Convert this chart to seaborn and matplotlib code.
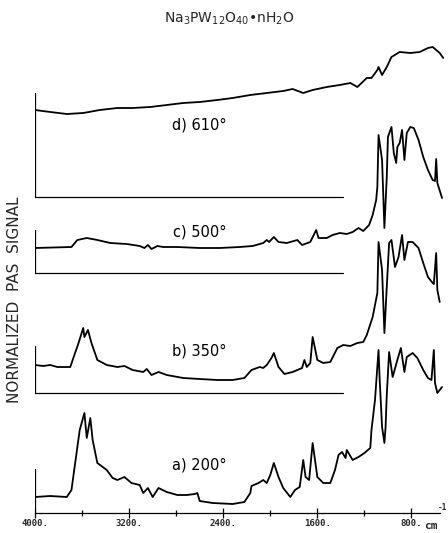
import numpy as np
import pandas as pd
import matplotlib
matplotlib.use("Agg")
import matplotlib.pyplot as plt
import seaborn as sns

# ---- data (wavenumber in cm^-1, normalized PAS signal in arbitrary units above each trace's baseline)
wn_a = [4000, 3870, 3730, 3690, 3620, 3580, 3560, 3530, 3510, 3470, 3390, 3340, 3300, 3240, 3180,
        3110, 3080, 3040, 3000, 2950, 2880, 2790, 2710, 2640, 2620, 2600, 2490, 2320, 2220, 2170,
        2160, 2100, 2060, 2030, 2000, 1970, 1930, 1890, 1830, 1790, 1750, 1720, 1700, 1670, 1640,
        1600, 1550, 1490, 1450, 1420, 1390, 1360, 1350, 1300, 1250, 1200, 1150, 1140, 1110, 1080,
        1070, 1050, 1030, 1020, 1010, 990, 960, 920, 890, 860, 840, 790, 750, 700, 660, 630, 610,
        600, 580, 540]
sig_a = [16, 17, 16, 23, 83, 100, 75, 95, 73, 50, 43, 35, 33, 36, 30,
         28, 20, 25, 16, 25, 21, 18, 18, 19, 20, 12, 10, 9, 11, 20,
         27, 30, 33, 30, 38, 50, 36, 25, 16, 23, 26, 53, 36, 33, 70,
         36, 30, 30, 43, 58, 61, 55, 63, 53, 56, 60, 65, 83, 113, 163,
         133, 86, 70, 86, 118, 161, 136, 153, 165, 141, 156, 160, 155, 143, 135, 133, 163,
         130, 120, 126]

wn_b = [4000, 3930, 3870, 3810, 3760, 3700, 3680, 3630, 3590, 3580, 3550, 3520, 3470, 3390, 3300,
        3240, 3170, 3080, 3050, 3010, 2950, 2880, 2740, 2600, 2450, 2320, 2220, 2160, 2090, 2060,
        2030, 1990, 1970, 1930, 1880, 1810, 1730, 1710, 1690, 1660, 1640, 1600, 1550, 1490, 1430,
        1380, 1320, 1260, 1210, 1180, 1130, 1090, 1080, 1050, 1030, 1010, 990, 970, 940, 910, 880,
        860, 830, 790, 740, 700, 660, 620, 610, 590, 580, 560]
sig_b = [28, 27, 28, 26, 26, 26, 33, 50, 65, 56, 63, 50, 33, 28, 26,
         27, 23, 21, 24, 18, 21, 18, 15, 14, 13, 13, 15, 23, 26, 25,
         28, 35, 40, 26, 19, 21, 25, 33, 26, 30, 56, 33, 30, 31, 45,
         48, 47, 50, 51, 58, 76, 100, 151, 123, 60, 106, 150, 153, 126, 136, 158,
         133, 151, 151, 145, 130, 116, 110, 109, 140, 103, 91]

wn_c = [4000, 3690, 3640, 3560, 3470, 3360, 3220, 3110, 3070, 3040, 3010, 2960, 2910, 2790, 2600,
        2430, 2260, 2150, 2060, 2030, 2010, 1970, 1930, 1860, 1770, 1730, 1660, 1610, 1590, 1520,
        1470, 1410, 1350, 1300, 1250, 1210, 1160, 1130, 1100, 1090, 1080, 1050, 1030, 1010, 1000,
        970, 950, 930, 920, 900, 880, 860, 840, 810, 780, 740, 700, 660, 620, 600, 590, 580, 540]
sig_c = [25, 26, 33, 35, 33, 30, 29, 27, 25, 28, 24, 27, 26, 26, 25,
         25, 26, 27, 30, 33, 31, 36, 31, 30, 33, 28, 31, 43, 35, 35,
         38, 40, 39, 41, 45, 42, 48, 58, 73, 86, 138, 113, 45, 96, 136,
         146, 120, 110, 126, 130, 143, 113, 140, 146, 145, 133, 116, 103, 93, 92, 114, 90, 75]

wn_d = [4000, 3870, 3730, 3590, 3450, 3300, 3170, 3020, 2880, 2740, 2600, 2450, 2320, 2170, 2030,
        1890, 1810, 1720, 1640, 1520, 1410, 1320, 1260, 1180, 1140, 1090, 1080, 1050, 1010, 970,
        900, 810, 730, 660, 620, 560, 530]
sig_d = [87, 85, 83, 84, 87, 89, 89, 90, 92, 94, 95, 97, 99, 102, 104,
         106, 108, 104, 107, 110, 112, 114, 110, 119, 119, 127, 130, 122, 130, 140,
         145, 144, 145, 149, 150, 144, 139]

labels = ["a) 200°", "b) 350°", "c) 500°", "d) 610°"]
offsets = [0, 120, 240, 316]
label_y = [48, 162, 281, 388]
tick_top = [44, 47, 43, 104]
baseline_end = 1380

major_ticks = [4000, 3200, 2400, 1600, 800]
major_labels = ["4000.", "3200.", "2400.", "1600.", "800."]
minor_ticks = [3600, 2800, 2000, 1200]

sns.set_theme(style="white")
plt.rcParams["font.family"] = ["DejaVu Sans"]
plt.rcParams["mathtext.fontset"] = "dejavusans"

W, H = 448, 533
fig = plt.figure(figsize=(W / 100, H / 100), dpi=100)
ax = fig.add_axes([35 / W, 20 / H, (W - 35) / W, 513 / H])
ax.set_xlim(4000, 4000 - (W - 35) * 8.5)
ax.set_ylim(0, 513)
ax.set_facecolor("white")

series = [(wn_a, sig_a), (wn_b, sig_b), (wn_c, sig_c), (wn_d, sig_d)]
for (wn, sig), off, lab, ly, tt in zip(series, offsets, labels, label_y, tick_top):
    df = pd.DataFrame({"wn": wn, "y": np.asarray(sig, float) + off})
    sns.lineplot(data=df, x="wn", y="y", ax=ax, color="black", lw=1.3,
                 estimator=None, sort=False, legend=False)
    # left marker tick
    ax.plot([4000, 4000], [off, off + tt], color="black", lw=0.9)
    # baseline for offset traces
    if off > 0:
        ax.plot([4000, baseline_end], [off, off], color="black", lw=0.9)
    ax.text(2600, ly, lab, ha="center", va="center", fontsize=10.5, color="black")

for s in ["top", "right", "left"]:
    ax.spines[s].set_visible(False)
ax.spines["bottom"].set_bounds(4000, 560)
ax.spines["bottom"].set_color("black")
ax.spines["bottom"].set_linewidth(0.9)
ax.set_yticks([])
ax.set_xticks(major_ticks)
ax.set_xticklabels(major_labels, fontsize=6.5, fontweight="bold", family="DejaVu Sans Mono")
ax.set_xticks(minor_ticks, minor=True)
ax.tick_params(axis="x", which="major", direction="inout", length=7, width=0.9,
               color="black", pad=1, bottom=True)
ax.tick_params(axis="x", which="minor", direction="inout", length=4, width=0.9,
               color="black", bottom=True)
ax.set_xlabel("")
ax.set_ylabel("")

fig.text(229 / W, 1 - 19 / H, r"$\mathrm{Na_3PW_{12}O_{40}}$•$\mathrm{nH_2O}$",
         ha="center", va="center", fontsize=10)
fig.text(15 / W, 1 - 300 / H, "NORMALIZED  PAS  SIGNAL", rotation=90,
         ha="center", va="center", fontsize=11)
fig.text(431 / W, 1 - 526 / H, "cm", ha="center", va="center", fontsize=8,
         fontweight="bold", family="DejaVu Sans Mono")
fig.text(442 / W, 1 - 508 / H, "-1", ha="center", va="center", fontsize=5.5,
         fontweight="bold", family="DejaVu Sans Mono")

fig.savefig("out.png", dpi=100, facecolor="white")
